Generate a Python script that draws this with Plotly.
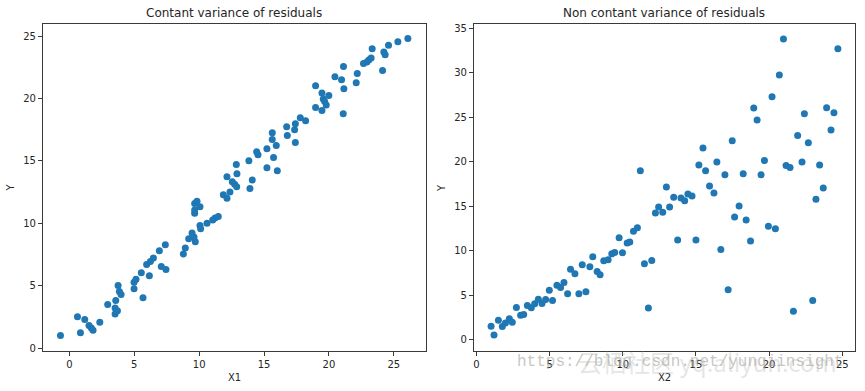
import plotly.graph_objects as go

# Left panel: constant variance
x1 = [-0.69, 0.62, 0.85, 1.18, 1.51, 1.69, 1.82, 2.34, 2.95, 3.57, 3.52, 3.52, 3.70, 3.75, 3.85, 3.98,
      4.98, 4.98, 5.13, 5.54, 5.67, 5.95, 6.16, 6.24, 6.47, 6.93, 7.08, 7.44, 7.39, 8.78, 8.93, 9.19,
      9.45, 9.60, 9.70, 9.65, 9.65, 9.65, 9.83, 10.06, 10.06, 10.11, 10.6, 11.04, 11.22, 11.47, 11.86,
      12.14, 12.37, 13.91,
      12.14, 12.55, 12.73, 12.89, 12.86, 12.91, 13.83, 14.09, 14.43, 14.53, 15.22, 15.22, 15.63, 15.63,
      15.73, 15.94, 16.02, 16.74, 16.79, 17.35, 17.41, 17.41, 17.79, 18.2, 18.97, 18.97, 19.46, 19.46,
      19.56, 19.66, 19.79, 19.99, 20.46, 20.97, 21.12, 21.1, 21.15, 22.1, 22.18, 22.66, 22.92, 23.07,
      23.25, 23.33, 24.13, 24.23, 24.33, 24.59, 25.31, 26.08]
y1 = [1.0, 2.5, 1.22, 2.28, 1.8, 1.6, 1.43, 2.06, 3.49, 3.81, 3.2, 2.72, 2.99, 5.0, 4.52, 4.29,
      4.74, 5.26, 5.5, 6.03, 4.02, 6.69, 5.79, 6.93, 7.22, 7.8, 6.53, 6.3, 8.28, 7.54, 8.02, 8.76,
      9.21, 8.89, 8.52, 10.79, 11.06, 11.59, 11.77, 11.32, 9.81, 9.55, 10.0, 10.26, 10.42, 10.53, 12.28,
      12.01, 12.51, 12.78,
      13.73, 13.33, 13.12, 12.93, 14.71, 13.97, 15.0, 13.46, 15.72, 15.48, 15.96, 14.44, 17.25, 16.7,
      15.27, 16.22, 14.2, 17.73, 17.02, 17.49, 17.97, 16.46, 18.45, 18.21, 21.02, 19.27, 20.44, 19.03,
      19.96, 19.77, 19.48, 20.23, 21.74, 21.5, 22.56, 18.77, 20.78, 21.26, 22.0, 22.8, 22.93, 23.09,
      23.25, 23.99, 22.24, 23.73, 23.51, 24.26, 24.55, 24.81]

# Right panel: non-constant variance
x2 = [1.0, 1.2, 1.5, 1.77, 1.98, 2.25, 2.45, 2.73, 3.02, 3.23, 3.48, 3.75, 3.98, 4.23, 4.48, 4.73,
      4.98, 5.2, 5.5, 5.75, 5.98, 6.23, 6.43, 6.73, 7.0, 7.23, 7.48, 7.75, 7.95, 8.25, 8.45, 8.7,
      9.0, 9.25, 9.45, 9.75, 9.98, 10.3, 10.48, 10.73, 11.0, 11.48, 11.98, 11.75, 12.23, 12.45, 12.73,
      12.98, 13.2, 13.48, 13.75, 13.98, 14.23, 14.45, 14.73, 15.0, 15.93, 16.23, 16.7, 17.2, 17.64,
      17.95, 18.43, 18.73, 19.95, 20.43, 21.66, 22.98, 23.2, 23.7,
      11.2, 15.2, 15.48, 15.66, 16.43, 16.98, 17.48, 18.23, 18.95, 19.18, 19.45, 19.68, 20.2, 20.7,
      20.98, 21.16, 21.43, 21.95, 22.25, 22.41, 22.68, 23.45, 23.93, 24.23, 24.43, 24.7]
y2 = [1.51, 0.52, 2.18, 1.48, 1.88, 2.36, 1.96, 3.62, 2.73, 2.84, 3.84, 3.58, 4.03, 4.54, 4.06, 4.51,
      5.54, 4.4, 6.1, 5.87, 6.43, 5.17, 7.9, 7.39, 5.17, 8.42, 5.39, 8.2, 9.31, 7.65, 7.28, 8.87,
      8.98, 9.64, 9.79, 11.45, 9.75, 10.86, 10.97, 12.19, 12.56, 8.53, 8.9, 3.55, 14.22, 14.89, 14.3,
      17.14, 14.89, 16.0, 11.19, 15.92, 15.59, 16.37, 16.14, 11.19, 17.25, 16.48, 10.12, 5.62, 13.78,
      15.0, 13.45, 11.08, 12.74, 12.45, 3.18, 4.4, 15.77, 17.03,
      18.96, 19.63, 21.52, 18.96, 19.96, 18.51, 22.34, 18.62, 26.01, 24.68, 18.51, 20.11, 27.28, 29.73,
      33.77, 19.55, 19.33, 22.93, 19.96, 25.38, 22.11, 19.63, 26.05, 23.56, 25.49, 32.66]

titles = ["Contant variance of residuals", "Non contant variance of residuals"]
xlabels = ["X1", "X2"]
ylabel = "Y"
ticks_left_x = [0, 5, 10, 15, 20, 25]
ticks_left_y = [0, 5, 10, 15, 20, 25]
ticks_right_x = [0, 5, 10, 15, 20, 25]
ticks_right_y = [0, 5, 10, 15, 20, 25, 30, 35]

W, H = 865, 391
C = "#1f77b4"
FONT = "DejaVu Sans"

fig = go.Figure()
fig.add_trace(go.Scatter(x=x1, y=y1, mode="markers", xaxis="x", yaxis="y",
                         marker=dict(color=C, size=7, line=dict(width=0)), showlegend=False))
fig.add_trace(go.Scatter(x=x2, y=y2, mode="markers", xaxis="x2", yaxis="y2",
                         marker=dict(color=C, size=7, line=dict(width=0)), showlegend=False))

ax_common = dict(showgrid=False, zeroline=False, showline=True, mirror=True, linecolor="#3a3a3a",
                 linewidth=1, ticks="outside", ticklen=4, tickcolor="#3a3a3a", tickwidth=1,
                 tickfont=dict(family=FONT, size=10, color="#262626"))

L0, L1 = 42 / W, 425 / W
R0, R1 = 473.5 / W, 855 / W
B, T = 1 - 352.7 / H, 1 - 23 / H

fig.update_layout(
    width=W, height=H, margin=dict(l=0, r=0, t=0, b=0),
    paper_bgcolor="white", plot_bgcolor="white",
    xaxis=dict(domain=[L0, L1], range=[-2.04, 27.44], tickvals=ticks_left_x, anchor="y", **ax_common),
    yaxis=dict(domain=[B, T], range=[-0.24, 25.98], tickvals=ticks_left_y, anchor="x", **ax_common),
    xaxis2=dict(domain=[R0, R1], range=[-0.17, 25.87], tickvals=ticks_right_x, anchor="y2", **ax_common),
    yaxis2=dict(domain=[B, T], range=[-1.27, 35.47], tickvals=ticks_right_y, anchor="x2", **ax_common),
)

ann = []
for i, (a, b) in enumerate([(L0, L1), (R0, R1)]):
    cx = (a + b) / 2
    ann.append(dict(text=titles[i], x=cx, y=1 - 12 / H, xref="paper", yref="paper", showarrow=False,
                    xanchor="center", yanchor="middle", font=dict(family=FONT, size=12, color="#262626")))
    ann.append(dict(text=xlabels[i], x=cx, y=1 - 379 / H, xref="paper", yref="paper", showarrow=False,
                    xanchor="center", yanchor="middle", font=dict(family=FONT, size=10, color="#262626")))
ann.append(dict(text=ylabel, x=10 / W, y=1 - 188 / H, xref="paper", yref="paper", showarrow=False,
                textangle=-90, xanchor="center", yanchor="middle", font=dict(family=FONT, size=10, color="#262626")))
ann.append(dict(text=ylabel, x=441 / W, y=1 - 188 / H, xref="paper", yref="paper", showarrow=False,
                textangle=-90, xanchor="center", yanchor="middle", font=dict(family=FONT, size=10, color="#262626")))
# watermark
ann.append(dict(text="云栖社区 yq.aliyun.com", x=707 / W, y=1 - 363 / H, xref="paper", yref="paper",
                showarrow=False, xanchor="center", yanchor="middle",
                font=dict(family="Noto Sans CJK SC", size=24, color="rgba(180,180,180,0.35)")))
ann.append(dict(text="https://blog.csdn.net/yunqiinsight", x=680 / W, y=1 - 364 / H, xref="paper", yref="paper",
                showarrow=False, xanchor="center", yanchor="middle",
                font=dict(family="Liberation Mono", size=16, color="rgba(160,160,150,0.6)")))
fig.update_layout(annotations=ann)

fig.write_html("out.html", config={"displayModeBar": False},
               post_script="document.body.style.margin='0px';document.body.style.overflow='hidden';")
